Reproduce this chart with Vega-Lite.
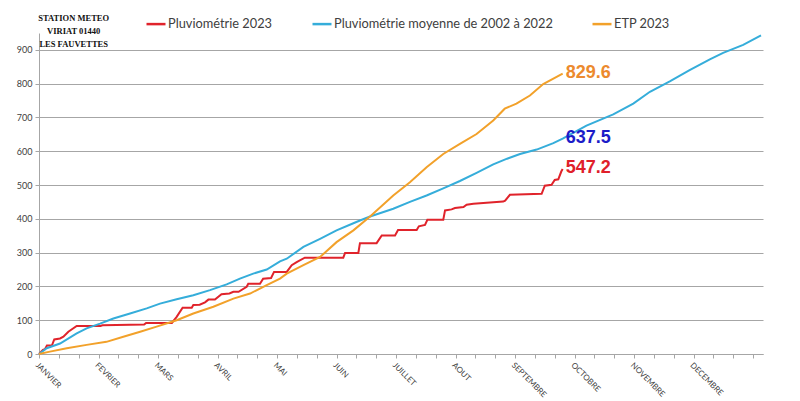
{
  "$schema": "https://vega.github.io/schema/vega-lite/v6.json",
  "width": 724,
  "height": 321,
  "autosize": {"type": "none"},
  "padding": {"left": 39, "top": 33, "right": 37, "bottom": 47},
  "background": "white",
  "config": {"view": {"stroke": null}, "font": "Lato"},
  "datasets": {
    "series": [
      {"serie": "Pluviométrie 2023", "jour": 0, "valeur": 0},
      {"serie": "Pluviométrie 2023", "jour": 2, "valeur": 12},
      {"serie": "Pluviométrie 2023", "jour": 3, "valeur": 14},
      {"serie": "Pluviométrie 2023", "jour": 4, "valeur": 25},
      {"serie": "Pluviométrie 2023", "jour": 6.5, "valeur": 25},
      {"serie": "Pluviométrie 2023", "jour": 7.7, "valeur": 43},
      {"serie": "Pluviométrie 2023", "jour": 10.6, "valeur": 46},
      {"serie": "Pluviométrie 2023", "jour": 12.3, "valeur": 51},
      {"serie": "Pluviométrie 2023", "jour": 14.8, "valeur": 66},
      {"serie": "Pluviométrie 2023", "jour": 19, "valeur": 83},
      {"serie": "Pluviométrie 2023", "jour": 31, "valeur": 83},
      {"serie": "Pluviométrie 2023", "jour": 32, "valeur": 85},
      {"serie": "Pluviométrie 2023", "jour": 39, "valeur": 86},
      {"serie": "Pluviométrie 2023", "jour": 53, "valeur": 87},
      {"serie": "Pluviométrie 2023", "jour": 54, "valeur": 92},
      {"serie": "Pluviométrie 2023", "jour": 67, "valeur": 92},
      {"serie": "Pluviométrie 2023", "jour": 69.4, "valeur": 110},
      {"serie": "Pluviométrie 2023", "jour": 72.4, "valeur": 137},
      {"serie": "Pluviométrie 2023", "jour": 77, "valeur": 137},
      {"serie": "Pluviométrie 2023", "jour": 77.8, "valeur": 145},
      {"serie": "Pluviométrie 2023", "jour": 81, "valeur": 146},
      {"serie": "Pluviométrie 2023", "jour": 83.7, "valeur": 153},
      {"serie": "Pluviométrie 2023", "jour": 85.4, "valeur": 161},
      {"serie": "Pluviométrie 2023", "jour": 88.7, "valeur": 161},
      {"serie": "Pluviométrie 2023", "jour": 92, "valeur": 177},
      {"serie": "Pluviométrie 2023", "jour": 96, "valeur": 179},
      {"serie": "Pluviométrie 2023", "jour": 98, "valeur": 184},
      {"serie": "Pluviométrie 2023", "jour": 100.6, "valeur": 184},
      {"serie": "Pluviométrie 2023", "jour": 104.7, "valeur": 199},
      {"serie": "Pluviométrie 2023", "jour": 105.5, "valeur": 208},
      {"serie": "Pluviométrie 2023", "jour": 111.4, "valeur": 208},
      {"serie": "Pluviométrie 2023", "jour": 113, "valeur": 223},
      {"serie": "Pluviométrie 2023", "jour": 117, "valeur": 225},
      {"serie": "Pluviométrie 2023", "jour": 118.5, "valeur": 243},
      {"serie": "Pluviométrie 2023", "jour": 124.9, "valeur": 243},
      {"serie": "Pluviométrie 2023", "jour": 127.4, "valeur": 263},
      {"serie": "Pluviométrie 2023", "jour": 129.9, "valeur": 272},
      {"serie": "Pluviométrie 2023", "jour": 134, "valeur": 285},
      {"serie": "Pluviométrie 2023", "jour": 153.4, "valeur": 285},
      {"serie": "Pluviométrie 2023", "jour": 154.3, "valeur": 299},
      {"serie": "Pluviométrie 2023", "jour": 161, "valeur": 299},
      {"serie": "Pluviométrie 2023", "jour": 161.8, "valeur": 328},
      {"serie": "Pluviométrie 2023", "jour": 170.2, "valeur": 328},
      {"serie": "Pluviométrie 2023", "jour": 172.8, "valeur": 351},
      {"serie": "Pluviométrie 2023", "jour": 179.5, "valeur": 351},
      {"serie": "Pluviométrie 2023", "jour": 181, "valeur": 367},
      {"serie": "Pluviométrie 2023", "jour": 190.4, "valeur": 367},
      {"serie": "Pluviométrie 2023", "jour": 191.5, "valeur": 378},
      {"serie": "Pluviométrie 2023", "jour": 194.6, "valeur": 382},
      {"serie": "Pluviométrie 2023", "jour": 195.8, "valeur": 397},
      {"serie": "Pluviométrie 2023", "jour": 203.8, "valeur": 397},
      {"serie": "Pluviométrie 2023", "jour": 204.7, "valeur": 425},
      {"serie": "Pluviométrie 2023", "jour": 208, "valeur": 428},
      {"serie": "Pluviométrie 2023", "jour": 209.7, "valeur": 432},
      {"serie": "Pluviométrie 2023", "jour": 214, "valeur": 435},
      {"serie": "Pluviométrie 2023", "jour": 215.6, "valeur": 442},
      {"serie": "Pluviométrie 2023", "jour": 219, "valeur": 445},
      {"serie": "Pluviométrie 2023", "jour": 224, "valeur": 447},
      {"serie": "Pluviométrie 2023", "jour": 234, "valeur": 451},
      {"serie": "Pluviométrie 2023", "jour": 235, "valeur": 454},
      {"serie": "Pluviométrie 2023", "jour": 237.4, "valeur": 471},
      {"serie": "Pluviométrie 2023", "jour": 253.4, "valeur": 474},
      {"serie": "Pluviométrie 2023", "jour": 255, "valeur": 498},
      {"serie": "Pluviométrie 2023", "jour": 258.4, "valeur": 501},
      {"serie": "Pluviométrie 2023", "jour": 260, "valeur": 515},
      {"serie": "Pluviométrie 2023", "jour": 261.8, "valeur": 517},
      {"serie": "Pluviométrie 2023", "jour": 263.3, "valeur": 540},
      {"serie": "Pluviométrie 2023", "jour": 264, "valeur": 547.2},

      {"serie": "Pluviométrie moyenne de 2002 à 2022", "jour": 0, "valeur": 0},
      {"serie": "Pluviométrie moyenne de 2002 à 2022", "jour": 3.9, "valeur": 17},
      {"serie": "Pluviométrie moyenne de 2002 à 2022", "jour": 10.6, "valeur": 31},
      {"serie": "Pluviométrie moyenne de 2002 à 2022", "jour": 19, "valeur": 61},
      {"serie": "Pluviométrie moyenne de 2002 à 2022", "jour": 24, "valeur": 76},
      {"serie": "Pluviométrie moyenne de 2002 à 2022", "jour": 30.8, "valeur": 90},
      {"serie": "Pluviométrie moyenne de 2002 à 2022", "jour": 37.5, "valeur": 105},
      {"serie": "Pluviométrie moyenne de 2002 à 2022", "jour": 45.9, "valeur": 120},
      {"serie": "Pluviométrie moyenne de 2002 à 2022", "jour": 54.3, "valeur": 135},
      {"serie": "Pluviométrie moyenne de 2002 à 2022", "jour": 61, "valeur": 149},
      {"serie": "Pluviométrie moyenne de 2002 à 2022", "jour": 69.4, "valeur": 162},
      {"serie": "Pluviométrie moyenne de 2002 à 2022", "jour": 77.8, "valeur": 174},
      {"serie": "Pluviométrie moyenne de 2002 à 2022", "jour": 86.2, "valeur": 189},
      {"serie": "Pluviométrie moyenne de 2002 à 2022", "jour": 94.6, "valeur": 206},
      {"serie": "Pluviométrie moyenne de 2002 à 2022", "jour": 101.3, "valeur": 223},
      {"serie": "Pluviométrie moyenne de 2002 à 2022", "jour": 108, "valeur": 238},
      {"serie": "Pluviométrie moyenne de 2002 à 2022", "jour": 114.8, "valeur": 250},
      {"serie": "Pluviométrie moyenne de 2002 à 2022", "jour": 121.5, "valeur": 274},
      {"serie": "Pluviométrie moyenne de 2002 à 2022", "jour": 124.9, "valeur": 282},
      {"serie": "Pluviométrie moyenne de 2002 à 2022", "jour": 133.3, "valeur": 317},
      {"serie": "Pluviométrie moyenne de 2002 à 2022", "jour": 141.7, "valeur": 341},
      {"serie": "Pluviométrie moyenne de 2002 à 2022", "jour": 150, "valeur": 366},
      {"serie": "Pluviométrie moyenne de 2002 à 2022", "jour": 158.5, "valeur": 387},
      {"serie": "Pluviométrie moyenne de 2002 à 2022", "jour": 161.8, "valeur": 395},
      {"serie": "Pluviométrie moyenne de 2002 à 2022", "jour": 166.9, "valeur": 407},
      {"serie": "Pluviométrie moyenne de 2002 à 2022", "jour": 178.6, "valeur": 430},
      {"serie": "Pluviométrie moyenne de 2002 à 2022", "jour": 187, "valeur": 450},
      {"serie": "Pluviométrie moyenne de 2002 à 2022", "jour": 195.4, "valeur": 469},
      {"serie": "Pluviométrie moyenne de 2002 à 2022", "jour": 203.8, "valeur": 490},
      {"serie": "Pluviométrie moyenne de 2002 à 2022", "jour": 212.2, "valeur": 512},
      {"serie": "Pluviométrie moyenne de 2002 à 2022", "jour": 220.6, "valeur": 536},
      {"serie": "Pluviométrie moyenne de 2002 à 2022", "jour": 229, "valeur": 561},
      {"serie": "Pluviométrie moyenne de 2002 à 2022", "jour": 236, "valeur": 578},
      {"serie": "Pluviométrie moyenne de 2002 à 2022", "jour": 242.5, "valeur": 592},
      {"serie": "Pluviométrie moyenne de 2002 à 2022", "jour": 250.9, "valeur": 605},
      {"serie": "Pluviométrie moyenne de 2002 à 2022", "jour": 259.3, "valeur": 624},
      {"serie": "Pluviométrie moyenne de 2002 à 2022", "jour": 264, "valeur": 637.5},
      {"serie": "Pluviométrie moyenne de 2002 à 2022", "jour": 276, "valeur": 676},
      {"serie": "Pluviométrie moyenne de 2002 à 2022", "jour": 289.5, "valeur": 709},
      {"serie": "Pluviométrie moyenne de 2002 à 2022", "jour": 299.6, "valeur": 741},
      {"serie": "Pluviométrie moyenne de 2002 à 2022", "jour": 308, "valeur": 776},
      {"serie": "Pluviométrie moyenne de 2002 à 2022", "jour": 318, "valeur": 807},
      {"serie": "Pluviométrie moyenne de 2002 à 2022", "jour": 328, "valeur": 840},
      {"serie": "Pluviométrie moyenne de 2002 à 2022", "jour": 338.2, "valeur": 872},
      {"serie": "Pluviométrie moyenne de 2002 à 2022", "jour": 344.9, "valeur": 891},
      {"serie": "Pluviométrie moyenne de 2002 à 2022", "jour": 355, "valeur": 915},
      {"serie": "Pluviométrie moyenne de 2002 à 2022", "jour": 364, "valeur": 943},

      {"serie": "ETP 2023", "jour": 0, "valeur": 0},
      {"serie": "ETP 2023", "jour": 5.5, "valeur": 7},
      {"serie": "ETP 2023", "jour": 14, "valeur": 17},
      {"serie": "ETP 2023", "jour": 24, "valeur": 27},
      {"serie": "ETP 2023", "jour": 34, "valeur": 36},
      {"serie": "ETP 2023", "jour": 42.5, "valeur": 51},
      {"serie": "ETP 2023", "jour": 51, "valeur": 66},
      {"serie": "ETP 2023", "jour": 59.3, "valeur": 81},
      {"serie": "ETP 2023", "jour": 69.4, "valeur": 100},
      {"serie": "ETP 2023", "jour": 77.8, "valeur": 120},
      {"serie": "ETP 2023", "jour": 87.9, "valeur": 140},
      {"serie": "ETP 2023", "jour": 98, "valeur": 164},
      {"serie": "ETP 2023", "jour": 106.4, "valeur": 179},
      {"serie": "ETP 2023", "jour": 114.8, "valeur": 204},
      {"serie": "ETP 2023", "jour": 121.5, "valeur": 223},
      {"serie": "ETP 2023", "jour": 124.9, "valeur": 238},
      {"serie": "ETP 2023", "jour": 133.3, "valeur": 263},
      {"serie": "ETP 2023", "jour": 141.7, "valeur": 287},
      {"serie": "ETP 2023", "jour": 150, "valeur": 331},
      {"serie": "ETP 2023", "jour": 158.5, "valeur": 366},
      {"serie": "ETP 2023", "jour": 166.9, "valeur": 407},
      {"serie": "ETP 2023", "jour": 178.6, "valeur": 469},
      {"serie": "ETP 2023", "jour": 187, "valeur": 508},
      {"serie": "ETP 2023", "jour": 195.4, "valeur": 553},
      {"serie": "ETP 2023", "jour": 203.8, "valeur": 592},
      {"serie": "ETP 2023", "jour": 212.2, "valeur": 622},
      {"serie": "ETP 2023", "jour": 220.6, "valeur": 651},
      {"serie": "ETP 2023", "jour": 229, "valeur": 691},
      {"serie": "ETP 2023", "jour": 234.8, "valeur": 726},
      {"serie": "ETP 2023", "jour": 240.7, "valeur": 741},
      {"serie": "ETP 2023", "jour": 247.5, "valeur": 765},
      {"serie": "ETP 2023", "jour": 254.2, "valeur": 799},
      {"serie": "ETP 2023", "jour": 264, "valeur": 829.6}
    ],
    "labels": [
      {"label": "829.6", "jour": 264, "valeur": 829.6},
      {"label": "637.5", "jour": 264, "valeur": 637.5},
      {"label": "547.2", "jour": 264, "valeur": 547.2}
    ],
    "stamp": [
      {"texte": "STATION METEO", "jour": 17.5, "valeur": 994},
      {"texte": "VIRIAT 01440", "jour": 17.5, "valeur": 957},
      {"texte": "LES FAUVETTES", "jour": 17.5, "valeur": 917}
    ]
  },
  "encoding": {
    "x": {
      "field": "jour", "type": "quantitative",
      "scale": {"domain": [0, 365], "nice": false, "zero": false},
      "axis": {
        "title": null,
        "values": [0, 10, 20, 30, 40, 50, 60, 70, 80, 90, 100, 110, 120, 130, 140, 150, 160, 170, 180, 190, 200, 210, 220, 230, 240, 250, 260, 270, 280, 290, 300, 310, 320, 330, 340, 350, 360],
        "labelExpr": "datum.value % 30 == 0 && datum.value <= 330 ? ['JANVIER','FEVRIER','MARS','AVRIL','MAI','JUIN','JUILLET','AOUT','SEPTEMBRE','OCTOBRE','NOVEMBRE','DECEMBRE'][datum.value / 30] : ''",
        "labelAngle": 45, "labelAlign": "left", "labelBaseline": "top",
        "labelFontSize": 8, "labelColor": "#404040", "labelPadding": 3,
        "labelOverlap": false, "labelBound": false, "labelFlush": false,
        "tickSize": 4, "tickColor": "#a6a6a6", "domainColor": "#a6a6a6",
        "grid": false
      }
    },
    "y": {
      "field": "valeur", "type": "quantitative",
      "scale": {"domain": [0, 950], "nice": false},
      "axis": {
        "title": null,
        "values": [0, 100, 200, 300, 400, 500, 600, 700, 800, 900],
        "labelFontSize": 9, "labelColor": "#404040", "labelPadding": 3,
        "labelOverlap": false, "labelFlush": false,
        "tickSize": 4, "tickColor": "#a6a6a6", "domainColor": "#a6a6a6",
        "grid": true, "gridColor": "#a6a6a6", "gridWidth": 1
      }
    }
  },
  "layer": [
    {
      "data": {"name": "series"},
      "mark": {"type": "line", "strokeWidth": 2},
      "encoding": {
        "color": {
          "field": "serie", "type": "nominal",
          "scale": {
            "domain": ["Pluviométrie 2023", "Pluviométrie moyenne de 2002 à 2022", "ETP 2023"],
            "range": ["#E0232B", "#35ADDA", "#F2A12A"]
          },
          "legend": {
            "title": null, "orient": "none", "legendX": 106, "legendY": -20,
            "direction": "horizontal", "symbolType": "stroke", "symbolSize": 361,
            "symbolStrokeWidth": 2.5, "labelFont": "Lato", "labelFontSize": 12.8,
            "labelColor": "#404040", "labelOffset": 1, "columnPadding": 34,
            "labelLimit": 400
          }
        }
      }
    },
    {
      "data": {"name": "labels"},
      "mark": {"type": "text", "font": "Liberation Sans", "fontWeight": "bold", "fontSize": 18, "align": "left", "baseline": "middle", "dx": 3, "dy": -1},
      "encoding": {
        "text": {"field": "label"},
        "color": {
          "field": "label", "type": "nominal",
          "scale": {"domain": ["829.6", "637.5", "547.2"], "range": ["#EC8A2E", "#1C1CC8", "#E0202A"]},
          "legend": null
        }
      }
    },
    {
      "data": {"name": "stamp"},
      "mark": {"type": "text", "font": "Liberation Serif", "fontWeight": "bold", "fontSize": 8.5, "align": "center", "baseline": "middle", "color": "#111111"},
      "encoding": {
        "text": {"field": "texte"}
      }
    }
  ],
  "resolve": {"scale": {"color": "independent"}}
}
